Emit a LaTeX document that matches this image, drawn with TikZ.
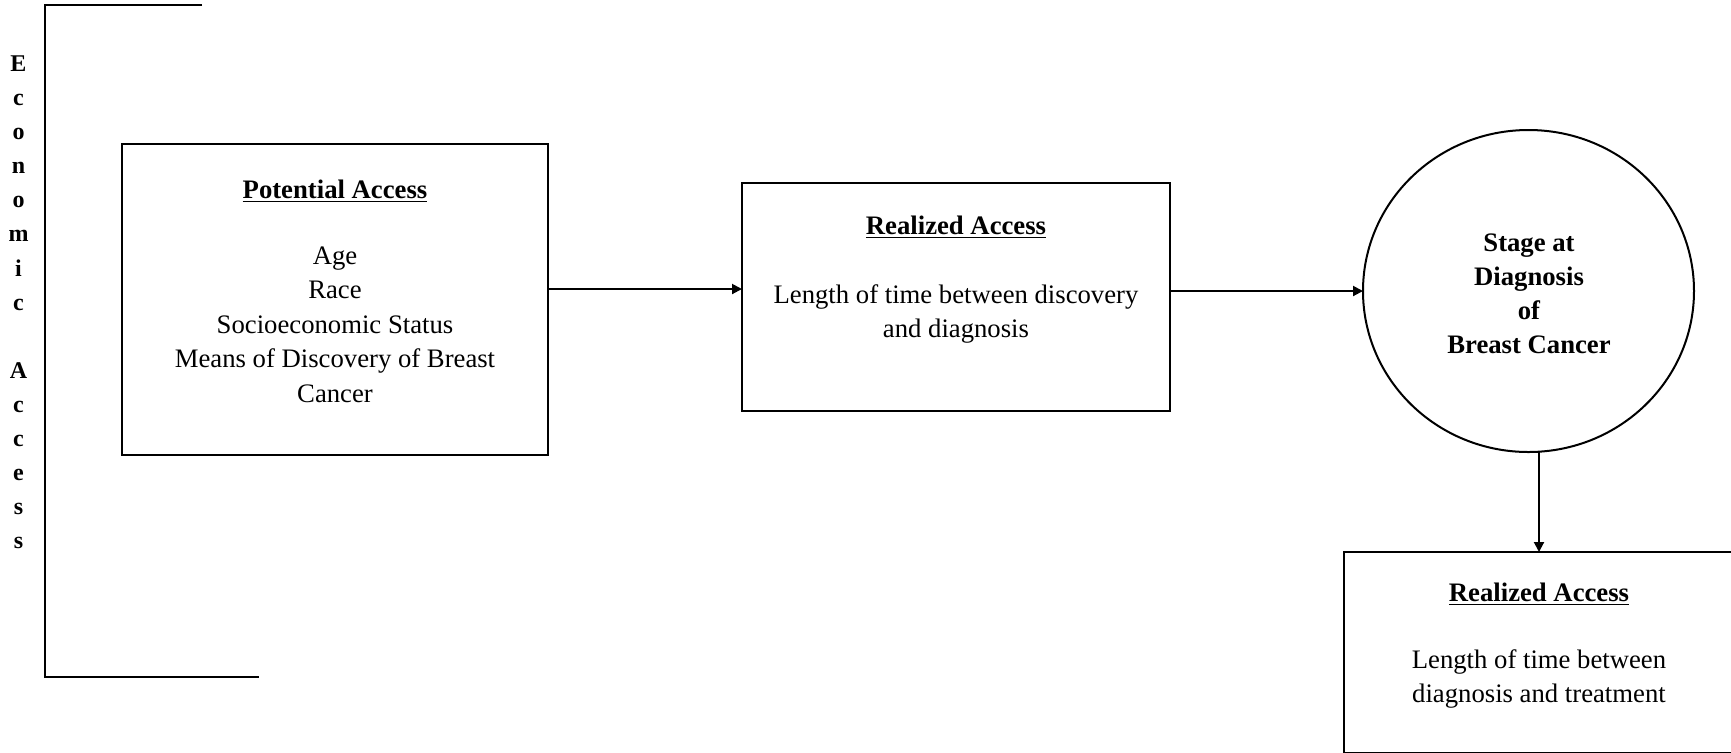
\documentclass[tikz,border=0pt]{standalone}
\usepackage{fontspec}
\setmainfont{Liberation Serif}
\usetikzlibrary{arrows.meta,shapes.geometric}
\begin{document}
\begin{tikzpicture}[x=0.5pt,y=-0.5pt,
  box/.style={draw,line width=1pt,rectangle,inner sep=0pt,outer sep=0pt},
  oval/.style={draw,line width=1pt,ellipse,inner sep=0pt,outer sep=0pt},
  arr/.style={line width=1pt,-{Triangle[length=5pt,width=5pt]}},
  txt/.style={align=center,inner sep=0pt,anchor=north},
  body/.style={txt,font=\fontsize{13.35pt}{17pt}\selectfont},
  side/.style={txt,font=\fontsize{12pt}{17.05pt}\selectfont\bfseries},
  frame/.style={line width=1pt}]
\path[use as bounding box,fill=white] (0,0) rectangle (1731,752);
\clip (0,0) rectangle (1731,752);

% bracket
\coordinate (bt) at (202,5);
\coordinate (bc1) at (45,5);
\coordinate (bc2) at (45,677);
\coordinate (bb) at (259,677);
\draw[frame] (bt) -- (bc1) -- (bc2) -- (bb);
\node[side] (econ) at (18.5,47) {\rule{0pt}{12pt}E\\c\\o\\n\\o\\m\\i\\c\\[17.05pt]A\\c\\c\\e\\s\\s};

% shapes
\node[box,minimum width=213pt,minimum height=155.5pt] (pot) at (335,299.5) {};
\node[box,minimum width=214pt,minimum height=114pt] (real1) at (956,297) {};
\node[oval,minimum width=165.5pt,minimum height=161pt] (stage) at (1528.5,291) {};
\node[box,minimum width=195pt,minimum height=100.5pt] (real2) at (1539,652.5) {};

% texts
\node[body,font=\fontsize{13.35pt}{17.25pt}\selectfont] (potT) at (335,174)
  {\rule{0pt}{12pt}\underline{\textbf{Potential Access}}\\[15.75pt]Age\\Race\\Socioeconomic Status\\Means of Discovery of Breast\\Cancer};
\node[body] (real1T) at (956,210)
  {\rule{0pt}{12pt}\underline{\textbf{Realized Access}}\\[17.5pt]Length of time between discovery\\and diagnosis};
\node[body,font=\fontsize{13.35pt}{17pt}\selectfont\bfseries] (stageT) at (1529,227)
  {\rule{0pt}{12pt}Stage at\\Diagnosis\\of\\Breast Cancer};
\node[body] (real2T) at (1539,577)
  {\rule{0pt}{12pt}\underline{\textbf{Realized Access}}\\[16.5pt]Length of time between\\diagnosis and treatment};

% connectors
\coordinate (a1) at (0,289);
\draw[arr] (pot.east |- a1) -- (real1.west |- a1);
\draw[arr] (real1.east |- stage.west) -- (stage.west);
\draw[arr] (real2.north |- stage.south) -- (real2.north);
\end{tikzpicture}
\end{document}
